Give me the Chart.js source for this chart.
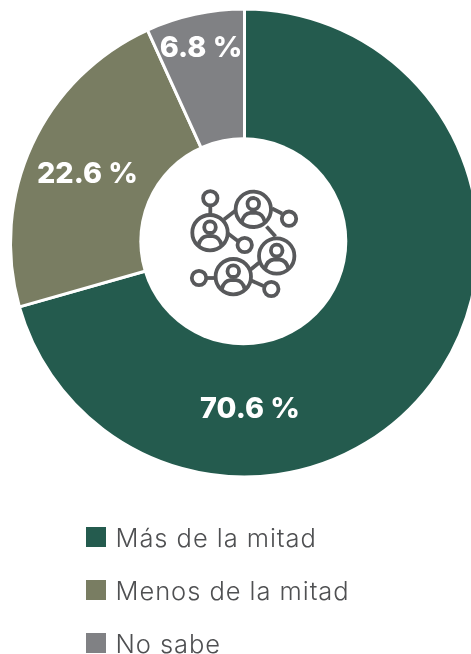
<!DOCTYPE html>
<html><head><meta charset="utf-8">
<style>
html,body{margin:0;padding:0;background:#fff;width:471px;height:654px;overflow:hidden}
#wrap{position:absolute;left:0;top:0;width:489px;height:486px}
#icon{position:absolute;left:0;top:0;pointer-events:none}
.lg{position:absolute;left:86px;display:flex;align-items:center;font:300 25.5px Inter,sans-serif;letter-spacing:.95px;color:#4f5052;white-space:nowrap}
.lg i{display:block;width:20px;height:20px;margin-right:9.5px}
</style></head><body>
<div id="wrap"><canvas id="c"></canvas></div>
<svg id="icon" width="471" height="654" fill="none" stroke="#58595b" stroke-width="3.8"></svg>
<div id="legend"></div>
<script src="https://cdn.jsdelivr.net/npm/chart.js@4"></script>
<script>
const categories=["Más de la mitad","Menos de la mitad","No sabe"];
const values=[70.6,22.6,6.8];
const valueLabels=["70.6 %","22.6 %","6.8 %"];
const colors=["#245b4e","#797d62","#808184"];
const labelOffsets=[[5.5,166],[-157,-69],[-43.5,-195]];
const legendRows=[537,590,643];

const sliceLabels={id:'sliceLabels',afterDatasetsDraw(chart){
  const a=chart.getDatasetMeta(0).data[0],g=chart.ctx;
  g.save();
  g.fillStyle='#fff';
  g.beginPath();g.arc(a.x-1.2,a.y-1.7,104,0,Math.PI*2);g.fill();
  g.textAlign='center';g.textBaseline='middle';
  g.font='800 28.8px Inter,sans-serif';
  valueLabels.forEach((t,i)=>g.fillText(t,a.x+labelOffsets[i][0],a.y+labelOffsets[i][1]));
  g.restore();
}};
new Chart(document.getElementById('c'),{type:'doughnut',
  data:{labels:categories,datasets:[{data:values,backgroundColor:colors,borderColor:'#fff',borderWidth:3,borderAlign:'center'}]},
  options:{responsive:true,maintainAspectRatio:false,animation:false,cutout:'40%',
    layout:{padding:7.5},
    plugins:{legend:{display:false},tooltip:{enabled:false}}},
  plugins:[sliceLabels]});

document.getElementById('legend').innerHTML=categories.map((c,i)=>
 `<div class="lg" style="top:${legendRows[i]-16}px;height:32px"><i style="background:${colors[i]}"></i>${c}</div>`).join('');

// central network icon
const small=[[210.3,198.3],[289,218.7],[244.7,245],[199,278],[271.3,289]];
const big=[[210,232.7],[253.3,209.3],[276.7,256],[233.3,276.7]];
const links=[[210.3,205,210.3,214.5],[224,219.5,235,211],[272,208.5,282,213.5],[228,233.5,238.5,241.5],[266.5,226.5,275.5,236.5],[250,270,260,262],[250,280,263.5,286],[207,278,214,278]];
let s='';
links.forEach(l=>s+=`<path d="M${l[0]} ${l[1]}L${l[2]} ${l[3]}"/>`);
small.forEach(p=>s+=`<circle cx="${p[0]}" cy="${p[1]}" r="7.2"/>`);
big.forEach(p=>{
  s+=`<circle cx="${p[0]}" cy="${p[1]}" r="17.7"/><circle cx="${p[0]}" cy="${p[1]-5.5}" r="5.8"/>`;
  s+=`<path d="M${p[0]-11.5} ${p[1]+12.5}C${p[0]-10} ${p[1]+6} ${p[0]-7} ${p[1]+4} ${p[0]-3} ${p[1]+3.5}H${p[0]+3}C${p[0]+7} ${p[1]+4} ${p[0]+10} ${p[1]+6} ${p[0]+11.5} ${p[1]+12.5}"/>`;
});
document.getElementById('icon').innerHTML=s;
</script>
</body></html>
